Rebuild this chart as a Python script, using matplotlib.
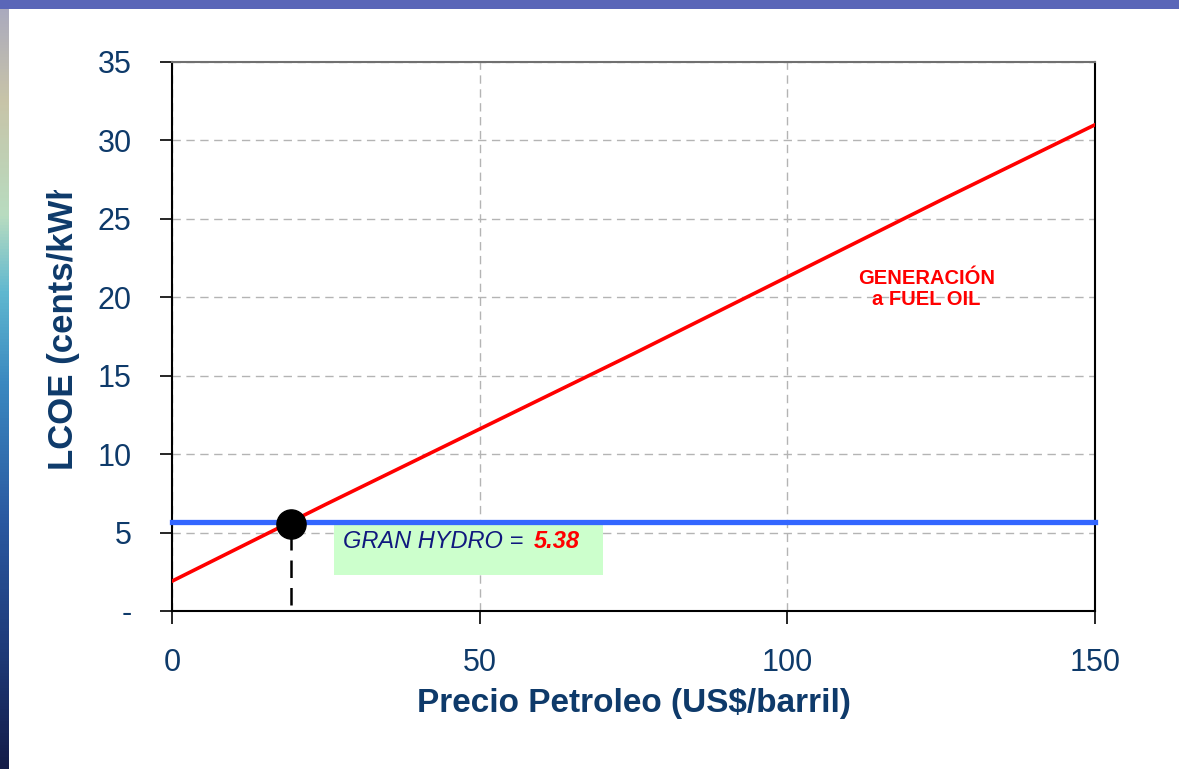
import matplotlib
matplotlib.use("Agg")
import matplotlib.pyplot as plt
import numpy as np
from matplotlib.colors import LinearSegmentedColormap
from matplotlib.patches import Rectangle
from matplotlib.transforms import Bbox, TransformedBbox

plt.rcParams['font.family'] = ['Liberation Sans', 'DejaVu Sans']

# data
precio = [0, 25, 50, 75, 100, 125, 150]            # US$/barril
lcoe_fuel_oil = [1.9, 6.8, 11.6, 16.4, 21.3, 26.2, 31.0]
hydro_x = [0, 150]
hydro_y = [5.65, 5.65]
cruce_x = 19.4          # precio de equilibrio
cruce_y = 5.55
hydro_label = "5.38"
y_ticks = [0, 5, 10, 15, 20, 25, 30, 35]
y_ticklabels = ['-', '5', '10', '15', '20', '25', '30', '35']
x_ticks = [0, 50, 100, 150]

navy = '#0e3a6a'

fig = plt.figure(figsize=(11.79, 7.69), dpi=100)

# slide background (water picture) behind a white panel
bg = fig.add_axes([0, 0, 1, 1], zorder=-10)
bg.axis('off')
cmap = LinearSegmentedColormap.from_list('water', [
    (0.0, '#a8a8c0'), (0.13, '#c8c4a8'), (0.28, '#b8dcc0'),
    (0.38, '#60b8d0'), (0.5, '#3a88c0'), (0.68, '#2a58a0'),
    (0.85, '#1e3a78'), (1.0, '#141c48')])
bg.imshow(np.linspace(0, 1, 256).reshape(-1, 1), aspect='auto', cmap=cmap,
          extent=[0, 1, 0, 1], transform=bg.transAxes)
bg.add_patch(Rectangle((0, 1 - 9 / 769), 1, 9 / 769, transform=bg.transAxes,
                       color='#5a66b8', lw=0))
bg.add_patch(Rectangle((9 / 1179, 0), 1, 1 - 9 / 769, transform=bg.transAxes,
                       color='white', lw=0))
bg.set_xlim(0, 1)
bg.set_ylim(0, 1)

ax = fig.add_axes([0.1459, 0.2055, 0.9288 - 0.1459, 0.9194 - 0.2055])
ax.set_facecolor('white')

# green label box
ax.add_patch(Rectangle((26.3, 2.3), 43.7, 3.2, color='#ccffcc', lw=0, zorder=2))

ax.plot(precio, lcoe_fuel_oil, color='#ff0000', lw=2.6, zorder=4)
ax.plot(hydro_x, hydro_y, color='#3366ff', lw=3.8, zorder=5, clip_on=False)
ax.plot([cruce_x, cruce_x], [0.4, cruce_y - 0.8], color='black', lw=1.8,
        dashes=(7, 4), zorder=6)
ax.plot([cruce_x], [cruce_y], 'o', color='black', ms=21, zorder=7)

ax.text(27.8, 4.0, 'GRAN HYDRO = ', style='italic', color='#10187e',
        fontsize=17, va='baseline', zorder=8)
ax.text(58.8, 4.0, hydro_label, style='italic', weight='bold', color='#ff0000',
        fontsize=17, va='baseline', zorder=8)

ax.text(122.6, 20.55, 'GENERACIÓN\na FUEL OIL', color='#ff0000', weight='bold',
        fontsize=14.5, ha='center', va='center', linespacing=1.12)

ax.set_xlim(0, 150)
ax.set_ylim(0, 35)
ax.set_xticks(x_ticks)
ax.set_yticks(y_ticks)
ax.set_yticklabels(y_ticklabels)
ax.tick_params(axis='both', colors='black', labelcolor=navy, labelsize=22,
               length=9, width=1.2)
ax.tick_params(axis='x', pad=18)
ax.tick_params(axis='y', pad=20)

ax.grid(True, color='#b4b4b4', linestyle=(0, (6, 4)), lw=1)
ax.set_axisbelow(True)
for s in ['left', 'bottom', 'right']:
    ax.spines[s].set_color('black')
    ax.spines[s].set_linewidth(1.5)
ax.spines['top'].set_color('#707070')
ax.spines['top'].set_linestyle((0, (8, 1)))
ax.spines['top'].set_linewidth(1.5)

ax.set_xlabel('Precio Petroleo (US$/barril)', fontsize=24, weight='bold',
              color=navy, labelpad=7)

# y label sits low and is cut off at the top in the original slide
yl = fig.text(64 / 1179, 1 - 470 / 769, 'LCOE (cents/kWh)', rotation=90,
              ha='center', va='bottom', fontsize=25, weight='bold', color=navy)
yl.set_clip_on(True)
yl.set_clip_box(TransformedBbox(Bbox([[0, 0], [0.2, 1 - 190 / 769]]),
                                fig.transFigure))

fig.savefig('out.png', dpi=100)
